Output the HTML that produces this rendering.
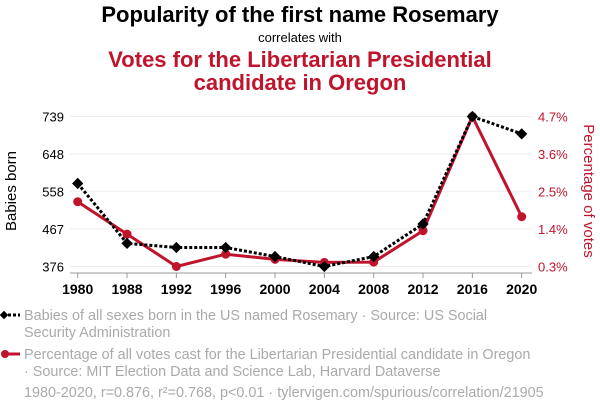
<!DOCTYPE html>
<html><head><meta charset="utf-8"><style>
body{margin:0;background:#fff;width:600px;height:414px;overflow:hidden;font-family:"Liberation Sans",Arial,sans-serif}
svg text{font-family:"Liberation Sans",Arial,sans-serif}
</style></head><body>
<svg id="chart" width="600" height="414" xmlns="http://www.w3.org/2000/svg">
<text x="300" y="22" text-anchor="middle" font-size="22" font-weight="bold" fill="#000">Popularity of the first name Rosemary</text>
<text x="300" y="42" text-anchor="middle" font-size="13" fill="#000">correlates with</text>
<text x="300" y="67" text-anchor="middle" font-size="22" font-weight="bold" fill="#c0142c">Votes for the Libertarian Presidential</text>
<text x="300" y="90" text-anchor="middle" font-size="22" font-weight="bold" fill="#c0142c">candidate in Oregon</text>
<g id="grid"></g><g id="axes"></g><g id="marks"></g>
<text transform="translate(16,191) rotate(-90)" text-anchor="middle" font-size="15" fill="#000">Babies born</text>
<text transform="translate(584,191) rotate(90)" text-anchor="middle" font-size="15" fill="#c0142c">Percentage of votes</text>
<g>
<line x1="3" y1="315" x2="20" y2="315" stroke="#000" stroke-width="3" stroke-dasharray="3,2"/>
<rect x="1" y="312" width="6" height="6" transform="rotate(45 4 315)" fill="#000"/>
<text x="24" y="320" font-size="14.4" fill="#aaa">Babies of all sexes born in the US named Rosemary · Source: US Social</text>
<text x="24" y="337" font-size="14.4" fill="#aaa">Security Administration</text></g>
<g>
<line x1="3" y1="354" x2="20" y2="354" stroke="#c0142c" stroke-width="3"/>
<circle cx="5" cy="354" r="4" fill="#c0142c"/>
<text x="24" y="359" font-size="14.4" fill="#aaa">Percentage of all votes cast for the Libertarian Presidential candidate in Oregon</text>
<text x="24" y="376" font-size="14.4" fill="#aaa">· Source: MIT Election Data and Science Lab, Harvard Dataverse</text></g>
<text x="24" y="397" font-size="14.4" fill="#aaa">1980-2020, r=0.876, r²=0.768, p&lt;0.01 · tylervigen.com/spurious/correlation/21905</text>
</svg>
<script>
const years=["1980","1988","1992","1996","2000","2004","2008","2012","2016","2020"];
const babies=[577,432,422,422,400,376,400,479,739,697];
const votes=[2.2,1.25,0.3,0.66,0.51,0.42,0.43,1.35,4.7,1.76];
const leftTicks=[739,648,558,467,376];
const rightTicks=[4.7,3.6,2.5,1.4,0.3];
const NS="http://www.w3.org/2000/svg";
const x=i=>77.7+i*(444/(years.length-1));
const yl=v=>266.5-(v-376)/(739-376)*150;
const yr=v=>266.5-(v-0.3)/(4.7-0.3)*150;
function mk(p,t,a){const e=document.createElementNS(NS,t);for(const k in a)e.setAttribute(k,a[k]);document.getElementById(p).appendChild(e);return e;}
leftTicks.forEach(v=>{
 const g=mk('grid','line',{x1:70,x2:532,y1:yl(v),y2:yl(v),stroke:'#eee'});
 
 
 const t=mk('axes','text',{x:64,y:yl(v)+5,'text-anchor':'end','font-size':13,fill:'#000'});t.textContent=v;
 
 
});
rightTicks.forEach(v=>{
 const t=mk('axes','text',{x:538,y:yr(v)+5,'font-size':13,fill:'#c0142c'});t.textContent=v.toFixed(1)+'%';
 
 
});
const ax=mk('axes','line',{x1:70,x2:532,y1:273,y2:273,stroke:'#999'});


years.forEach((yv,i)=>{
 const tk=mk('axes','line',{x1:x(i),x2:x(i),y1:273,y2:278,stroke:'#999'});
 
 
 const t=mk('axes','text',{x:x(i),y:294,'text-anchor':'middle','font-size':14,'font-weight':'bold',fill:'#000'});t.textContent=yv;
 
 
});
const vl=mk('marks','polyline',{points:votes.map((v,i)=>x(i)+','+yr(v)).join(' '),fill:'none',stroke:'#c0142c','stroke-width':3});


votes.forEach((v,i)=>{const c=mk('marks','circle',{cx:x(i),cy:yr(v),r:4.5,fill:'#c0142c'});
 
 });
const bl=mk('marks','polyline',{points:babies.map((v,i)=>x(i)+','+yl(v)).join(' '),fill:'none',stroke:'#000','stroke-width':3,'stroke-dasharray':'3,2'});


babies.forEach((v,i)=>{const r=mk('marks','rect',{x:x(i)-4,y:yl(v)-4,width:8,height:8,fill:'#000',transform:`rotate(45 ${x(i)} ${yl(v)})`});
 
 });
</script>
</body></html>
